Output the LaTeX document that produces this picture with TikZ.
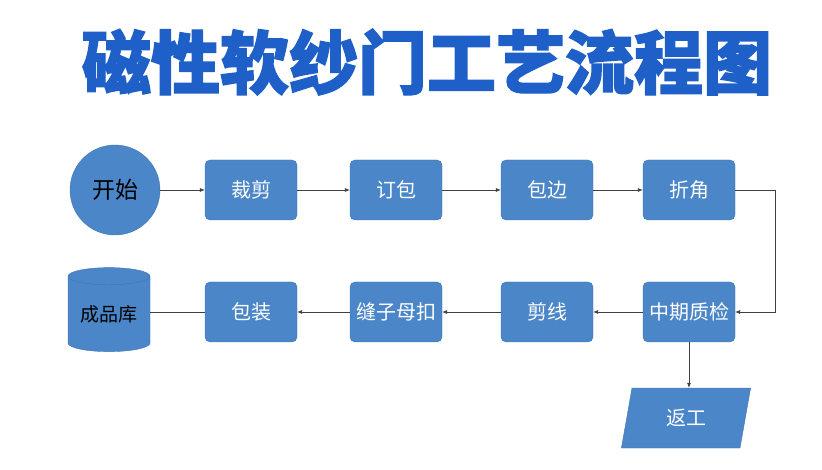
\documentclass[tikz,border=0pt]{standalone}
\usepackage{fontspec}
\newfontfamily\cjk{Noto Sans CJK SC}
\usetikzlibrary{shapes.geometric,arrows.meta}
\definecolor{bx}{HTML}{4A86C8}
\definecolor{bd}{HTML}{3F75B3}
\definecolor{tt}{HTML}{1F5FC8}
\begin{document}
\begin{tikzpicture}[x=1pt,y=-1pt,
 box/.style={draw=bd,fill=bx,rounded corners=5pt,minimum width=92pt,minimum height=60pt,text=white,font=\cjk\fontsize{20}{20}\selectfont},
 ar/.style={-{Latex[length=5pt,width=4pt]},draw=black!75,line width=0.6pt}]
\useasboundingbox (0,0) rectangle (822,470);
\node[font=\cjk\bfseries\fontsize{69}{69}\selectfont,text=tt,inner sep=0pt] (title) at (427,62) {\addfontfeature{FakeBold=2}磁性软纱门工艺流程图};
\node[circle,fill=bx,draw=bd,minimum size=90pt,font=\cjk\fontsize{23}{23}\selectfont] (s) at (115,190) {开始};
\node[box] (a) at (251,190) {裁剪};
\node[box] (b) at (396,190) {订包};
\node[box] (c) at (547,190) {包边};
\node[box] (d) at (689,190) {折角};
\node[box] (e) at (689,312) {中期质检};
\node[box] (f) at (547,312) {剪线};
\node[box] (g) at (396,312) {缝子母扣};
\node[box] (h) at (251,312) {包装};
\node[cylinder,shape border rotate=90,aspect=0.3,fill=bx,draw=bd,minimum width=82pt,minimum height=84pt,inner sep=0pt,font=\cjk\fontsize{19}{19}\selectfont] (k) at (109,314) {成品库};
\node[trapezium,trapezium left angle=80,trapezium right angle=100,fill=bx,draw=bd,minimum width=74pt,minimum height=60pt,inner xsep=2pt,font=\cjk\fontsize{20}{20}\selectfont,text=white] (r) at (686,418) {返工};
\draw[ar] (s) -- (a);
\draw[ar] (a) -- (b);
\draw[ar] (b) -- (c);
\draw[ar] (c) -- (d);
\draw[ar] (d.east) -- ++(40,0) |- (e.east);
\draw[ar] (e) -- (f);
\draw[ar] (f) -- (g);
\draw[ar] (g) -- (h);
\draw[draw=black!75,line width=0.6pt] (h.west) -- (k.east|-h.west);
\draw[ar] (e.south) -- (e.south|-r.north);
\end{tikzpicture}
\end{document}
